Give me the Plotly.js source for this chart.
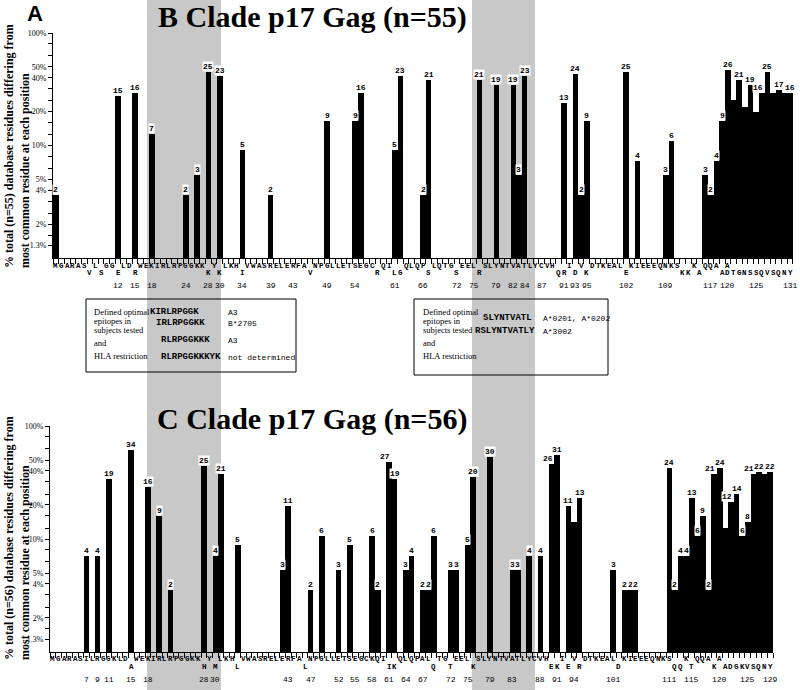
<!DOCTYPE html>
<html>
<head>
<meta charset="utf-8">
<script src="https://cdn.plot.ly/plotly-3.0.1.min.js"></script>
<style>
body { margin: 0; background: #fff; }
#chart { width: 800px; height: 690px; }
</style>
</head>
<body>
<div id="chart"></div>
<script>
// panel B : clade B, 55 sequences
var bN = 55;
var bPos   = [1, 12, 15, 18, 24, 26, 28, 30, 34, 39, 49, 54, 55, 61, 62, 66, 67, 76, 79, 82,
              83, 84, 91, 93, 94, 95, 102, 104, 109, 110,
              116, 117, 118, 119, 120, 121, 122, 123, 124, 125, 126, 127, 128, 129, 130, 131];
var bCount = [2, 15, 16, 7, 2, 3, 25, 23, 5, 2, 9, 9, 16, 5, 23, 2, 21, 21, 19, 19,
              3, 23, 13, 24, 2, 9, 25, 4, 3, 6,
              3, 2, 4, 9, 26, 14, 21, 12, 19, 11, 16, 25, 16, 17, 16, 16];
var bNoLabel = [121, 123, 125, 128, 130];
var bTop = "MGARAS_L_G" + "G_LD_WEKIR" + "LRPGGKK_Y_" + "LKH_VWASRE" + "LERFA_NPGL" + "LETSEGC_QI" +
           "__QLQP_LQT" + "G_EEL_SLYN" + "TVATLYCVH_" + "_I_V_DTKEA" + "L_KIEEEQNK" + "S__K_QQA_A" + "___________";
var bLow = "______V_S_" + "_E__R_____" + "_______K_K" + "___I______" + "_____V____" + "_______R__" +
           "LG____S___" + "_S___R____" + "_________Q" + "R_D_K_____" + "_E________" + "_KK_A___AD" + "TGNSSQVSQNY";
var bNumbers = [12, 15, 18, 24, 28, 30, 34, 39, 43, 49, 54, 61, 66, 72, 75, 79, 82, 84, 87, 91, 93, 95,
                102, 109, 117, 120, 125, 131];

// panel C : clade C, 56 sequences
var cN = 56;
var cPos   = [7, 9, 11, 15, 18, 20, 22, 28, 30, 31, 34, 42, 43, 47, 49, 52, 54, 58, 59, 61,
              62, 64, 65, 67, 68, 69, 72, 73, 75, 76, 79, 83, 84, 86, 88, 90, 91, 93, 94, 95,
              101, 103, 104, 105,
              111, 112, 113, 114, 115, 116, 117, 118, 119, 120, 121, 122, 123, 124, 125, 126, 127, 128, 129];
var cCount = [4, 4, 19, 34, 16, 9, 2, 25, 4, 21, 5, 3, 11, 2, 6, 3, 5, 6, 2, 27,
              19, 3, 4, 2, 2, 6, 3, 3, 5, 20, 30, 3, 3, 4, 4, 26, 31, 11, 8, 13,
              3, 2, 2, 2,
              24, 2, 4, 4, 13, 6, 9, 2, 21, 24, 7, 12, 14, 6, 8, 21, 22, 21, 22];
var cNoLabel = [94, 121, 128];
var cTop = "MGARASILRG" + "GKLD_WEKIR" + "LRPGGKK_Y_" + "LKH_VWASRE" + "LERFA_NPGL" + "LETSEGCKQI" +
           "__QLQPAL_T" + "G_EEL_SLYN" + "TVATLYCVH_" + "_I_V_DTKEA" + "L_KIEEEQNK" + "S__K_QQA_A" + "_________";
var cLow = "__________" + "____A_____" + "_______H_M" + "___L______" + "_____L____" + "__________" +
           "IK______Q_" + "_T___K____" + "_________E" + "K_E_R_____" + "_D________" + "_QQ_T___K_" + "ADGKVSQNY";
var cNumbers = [7, 9, 11, 15, 18, 28, 30, 43, 47, 52, 55, 58, 61, 64, 67, 72, 75, 79, 83, 88, 91, 94,
                101, 111, 115, 120, 125, 129];

var yTickVals = [1.3, 2, 4, 5, 10, 20, 40, 50, 100];
var yTickText = ['1.3%', '2%', '4%', '5%', '10%', '20%', '40%', '50%', '100%'];
var yMinorVals = [1.6, 2.5, 3.2, 6.3, 8, 12.5, 16, 25, 32, 63, 80];

var mono = 'Liberation Mono, Courier New, monospace';
var serif = 'Liberation Serif, Times New Roman, serif';

// pixel -> paper helpers (plot area starts at x=50, full height)
function px(x) { return (x - 50) / 743; }
function py(y) { return 1 - y / 690; }

function bounds(n) {
  var v = [];
  for (var i = 0; i <= n; i++) v.push(i + 0.5);
  return v;
}

var ann = [];

function countLabels(pos, cnt, n, skip, xr, yr) {
  var shown = function (k) { return k >= 0 && k < pos.length && skip.indexOf(pos[k]) < 0; };
  for (var i = 0; i < pos.length; i++) {
    if (!shown(i)) continue;
    // two wide labels side by side: push the left one a bit further left
    var dx = 0;
    if (cnt[i] >= 10 && shown(i + 1) && pos[i + 1] === pos[i] + 1 && cnt[i + 1] >= 10) dx = -4;
    ann.push({xref: xr, yref: yr, x: pos[i], y: Math.log10(cnt[i] / n * 100), xshift: dx,
      text: String(cnt[i]), showarrow: false, xanchor: 'center', yanchor: 'bottom',
      bgcolor: '#fff', borderpad: 0,
      font: {family: mono, size: 8, color: '#000', weight: 'bold'}});
  }
}

function seqRow(str, xr, ypix) {
  for (var i = 0; i < str.length; i++) {
    if (str[i] === '_') continue;
    ann.push({xref: xr, yref: 'paper', x: i + 1, y: py(ypix), text: str[i], showarrow: false,
      xanchor: 'center', yanchor: 'middle',
      font: {family: mono, size: 7.5, color: '#000', weight: 'bold'}});
  }
}

function numRow(nums, xr, ypix) {
  nums.forEach(function (v) {
    ann.push({xref: xr, yref: 'paper', x: v, y: py(ypix), text: String(v), showarrow: false,
      xanchor: 'center', yanchor: 'middle',
      font: {family: mono, size: 8, color: '#000'}});
  });
}

function txt(t, x, y, font, xanchor) {
  ann.push({xref: 'paper', yref: 'paper', x: px(x), y: py(y), text: t, showarrow: false,
    xanchor: xanchor || 'left', yanchor: 'middle', font: font});
}

function seqTxt(t, xr, p, y) {
  ann.push({xref: xr, yref: 'paper', x: p - 0.5, y: py(y), text: t, showarrow: false,
    xanchor: 'left', yanchor: 'middle', borderpad: 0,
    font: {family: mono, size: 9, color: '#000', weight: 'bold'}});
}

countLabels(bPos, bCount, bN, bNoLabel, 'x', 'y');
countLabels(cPos, cCount, cN, cNoLabel, 'x2', 'y2');
seqRow(bTop, 'x', 266);
seqRow(bLow, 'x', 273);
seqRow(cTop, 'x2', 659);
seqRow(cLow, 'x2', 667);
numRow(bNumbers, 'x', 285);
numRow(cNumbers, 'x2', 679);

// titles
var titleFont = {family: serif, size: 30, color: '#000', weight: 'bold'};
txt('B Clade p17 Gag (n=55)', 312, 17, titleFont, 'center');
txt('C Clade p17 Gag (n=56)', 312, 419, titleFont, 'center');
txt('A', 35, 14, {family: 'Liberation Sans, Arial, sans-serif', size: 22, color: '#000', weight: 'bold'}, 'center');

// y axis titles
var yTitleFont = {family: serif, size: 12, color: '#000', weight: 'bold'};
ann.push({xref: 'paper', yref: 'paper', x: px(17), y: py(146), textangle: -90, align: 'left',
  text: '% total (n=55) database residues differing from<br>most common residue at each position',
  showarrow: false, xanchor: 'center', yanchor: 'middle', font: yTitleFont});
ann.push({xref: 'paper', yref: 'paper', x: px(17), y: py(538), textangle: -90, align: 'left',
  text: '% total (n=56) database residues differing from<br>most common residue at each position',
  showarrow: false, xanchor: 'center', yanchor: 'middle', font: yTitleFont});

// epitope boxes
var lblFont = {family: serif, size: 8.5, color: '#000'};
var hlaFont = {family: mono, size: 8, color: '#000'};
[['Defined optimal', 312], ['epitopes in', 321], ['subjects tested', 330], ['and', 343], ['HLA restriction', 356]]
  .forEach(function (r) { txt(r[0], 92, r[1], lblFont); txt(r[0], 421, r[1], lblFont); });
seqTxt('KIRLRPGGK', 'x', 18, 312);
seqTxt('IRLRPGGKK', 'x', 19, 323);
seqTxt('RLRPGGKKK', 'x', 20, 340);
seqTxt('RLRPGGKKKYK', 'x', 20, 357);
txt('A3', 226, 312, hlaFont);
txt('B*2705', 226, 323, hlaFont);
txt('A3', 226, 340, hlaFont);
txt('not determined', 226, 357, hlaFont);
seqTxt('SLYNTVATL', 'x', 77, 318);
seqTxt('RSLYNTVATLY', 'x', 75.6, 331);
txt('A*0201, A*0202', 541, 318, hlaFont);
txt('A*3002', 541, 331, hlaFont);

var shapes = [
  // grey epitope bands, full height
  {type: 'rect', xref: 'paper', yref: 'paper', x0: px(147), x1: px(221), y0: 0, y1: 1,
   fillcolor: '#c8c8c8', line: {width: 0}, layer: 'below'},
  {type: 'rect', xref: 'paper', yref: 'paper', x0: px(472), x1: px(535), y0: 0, y1: 1,
   fillcolor: '#c8c8c8', line: {width: 0}, layer: 'below'},
  {type: 'rect', xref: 'paper', yref: 'paper', x0: px(86), x1: px(296), y0: py(372), y1: py(299),
   line: {color: '#000', width: 1}, fillcolor: 'rgba(0,0,0,0)'},
  {type: 'rect', xref: 'paper', yref: 'paper', x0: px(414), x1: px(608), y0: py(375), y1: py(299),
   line: {color: '#000', width: 1}, fillcolor: 'rgba(0,0,0,0)'}
];

function pct(cnt, n) { return cnt.map(function (c) { return c / n * 100; }); }

var data = [
  {type: 'bar', x: bPos, y: pct(bCount, bN), width: 1, xaxis: 'x', yaxis: 'y',
   marker: {color: '#000', line: {width: 0}}, hoverinfo: 'skip'},
  {type: 'bar', x: cPos, y: pct(cCount, cN), width: 1, xaxis: 'x2', yaxis: 'y2',
   marker: {color: '#000', line: {width: 0}}, hoverinfo: 'skip'}
];

function xAxis(dom, n, anchor) {
  return {domain: dom, range: [0.47, n + 0.53], anchor: anchor,
    showline: true, linecolor: '#000', linewidth: 1, showgrid: false, zeroline: false,
    tickmode: 'array', tickvals: bounds(n), showticklabels: false,
    ticks: 'outside', ticklen: 5, tickcolor: '#000', tickwidth: 1, fixedrange: true};
}

function yAxis(dom, anchor) {
  return {domain: dom, type: 'log', range: [0, 2], anchor: anchor,
    showline: true, linecolor: '#000', linewidth: 1, showgrid: false, zeroline: false,
    tickmode: 'array', tickvals: yTickVals, ticktext: yTickText,
    ticks: 'outside', ticklen: 4, tickcolor: '#000', tickwidth: 1,
    tickfont: {family: serif, size: 8, color: '#000'},
    minor: {tickmode: 'array', tickvals: yMinorVals, ticks: 'outside', ticklen: 4, tickcolor: '#000'},
    fixedrange: true};
}

var layout = {
  width: 800, height: 690,
  margin: {l: 50, r: 7, t: 0, b: 0},
  paper_bgcolor: '#fff', plot_bgcolor: 'rgba(0,0,0,0)',
  showlegend: false, bargap: 0,
  xaxis: xAxis([3 / 743, 1], 131, 'y'),
  yaxis: yAxis([py(258), py(33)], 'x'),
  xaxis2: xAxis([0, 723 / 743], 129, 'y2'),
  yaxis2: yAxis([py(652), py(426)], 'x2'),
  shapes: shapes,
  annotations: ann
};
layout.xaxis2.range = [0.5, 129.5];

Plotly.newPlot('chart', data, layout, {staticPlot: true});
</script>
</body>
</html>
